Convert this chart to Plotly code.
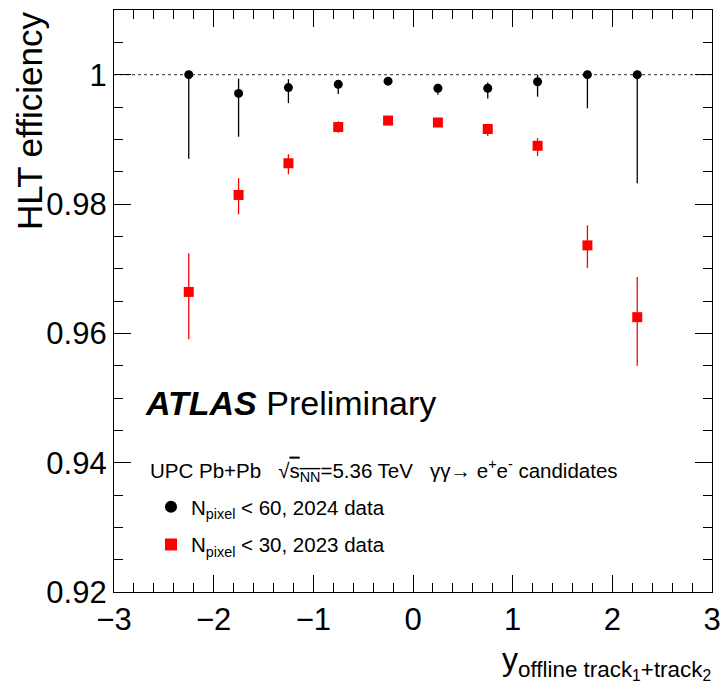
import plotly.graph_objects as go

# ---- data ----
y_bins = [-2.25, -1.75, -1.25, -0.75, -0.25, 0.25, 0.75, 1.25, 1.75, 2.25]

eff_2024 = [1.000, 0.9971, 0.9980, 0.9985, 0.9990, 0.9979, 0.9979, 0.9989, 1.000, 1.000]
err_up_2024 = [0.0, 0.0023, 0.0013, 0.0006, 0.0003, 0.0007, 0.0009, 0.0011, 0.0, 0.0]
err_dn_2024 = [0.0130, 0.0067, 0.0024, 0.0015, 0.0003, 0.0010, 0.0016, 0.0023, 0.0052, 0.0168]

eff_2023 = [0.9664, 0.9814, 0.9863, 0.9919, 0.9929, 0.9926, 0.9916, 0.9890, 0.9736, 0.9625]
err_up_2023 = [0.0060, 0.0026, 0.0014, 0.0009, 0.0004, 0.0005, 0.0007, 0.0012, 0.0031, 0.0062]
err_dn_2023 = [0.0073, 0.0030, 0.0017, 0.0009, 0.0004, 0.0006, 0.0011, 0.0016, 0.0035, 0.0075]

label_2024 = "N<sub>pixel</sub> &lt; 60, 2024 data"
label_2023 = "N<sub>pixel</sub> &lt; 30, 2023 data"

x_range = [-3, 3]
y_range = [0.92, 1.01]
ref_line = 1.0

FONT = "Liberation Sans, Arial, Helvetica, sans-serif"

fig = go.Figure()

fig.add_trace(go.Scatter(
    x=y_bins, y=eff_2024, mode="markers", name=label_2024, legendgroup="a",
    marker=dict(symbol="circle", size=9, color="black"),
    error_y=dict(type="data", symmetric=False, array=err_up_2024, arrayminus=err_dn_2024,
                 color="black", thickness=1.3, width=0),
))
fig.add_trace(go.Scatter(
    x=y_bins, y=eff_2023, mode="markers", name=label_2023, legendgroup="b",
    marker=dict(symbol="square", size=10, color="#ff0000"),
    error_y=dict(type="data", symmetric=False, array=err_up_2023, arrayminus=err_dn_2023,
                 color="#ff0000", thickness=1.3, width=0),
))

fig.add_shape(type="line", xref="x", yref="y", x0=x_range[0], x1=x_range[1],
              y0=ref_line, y1=ref_line, line=dict(color="#555555", width=1.3, dash="dot"),
              layer="below")

axis_common = dict(
    showline=True, linecolor="black", linewidth=1.2, mirror="ticks",
    ticks="inside", tickcolor="black", tickwidth=1.2, ticklen=17,
    showgrid=False, zeroline=False, automargin=False,
    tickfont=dict(family=FONT, size=31, color="black"),
)

fig.update_xaxes(range=x_range, dtick=1, tick0=0,
                 minor=dict(dtick=0.2, ticks="inside", ticklen=9, tickcolor="black", tickwidth=1.2),
                 **axis_common)
fig.update_yaxes(range=y_range, dtick=0.02, tick0=0.92,
                 minor=dict(dtick=0.005, ticks="inside", ticklen=9, tickcolor="black", tickwidth=1.2),
                 **axis_common)

W, H = 721, 695
L, R, T, B = 114, 9, 10, 103
pw, ph = W - L - R, H - T - B

def px(xp):
    return (xp - L) / pw

def py(yp):
    return (H - B - yp) / ph

annotations = [
    dict(text="HLT efficiency", x=px(29), y=py(121), xref="paper", yref="paper",
         textangle=-90, showarrow=False, xanchor="center", yanchor="middle",
         font=dict(family=FONT, size=35, color="black")),
    dict(text="y<sub>offline track<sub>1</sub>+track<sub>2</sub></sub>", x=px(713), y=py(662),
         xref="paper", yref="paper", showarrow=False, xanchor="right", yanchor="middle",
         font=dict(family=FONT, size=32, color="black")),
    dict(text="<b><i>ATLAS</i></b> Preliminary", x=px(143), y=py(403), xref="paper", yref="paper",
         showarrow=False, xanchor="left", yanchor="middle",
         font=dict(family=FONT, size=34, color="black")),
    dict(text="UPC Pb+Pb   √<span style='text-decoration:overline'>s<sub>NN</sub></span>=5.36 TeV   γγ→ e<sup>+</sup>e<sup>-</sup> candidates",
         x=px(148), y=py(470), xref="paper", yref="paper",
         showarrow=False, xanchor="left", yanchor="middle",
         font=dict(family=FONT, size=20.5, color="black")),
]

fig.update_layout(
    width=W, height=H,
    margin=dict(l=L, r=R, t=T, b=B),
    paper_bgcolor="white", plot_bgcolor="white",
    annotations=annotations,
    showlegend=True,
    legend=dict(x=px(151), y=py(487), xanchor="left", yanchor="top",
                bgcolor="rgba(0,0,0,0)", font=dict(family=FONT, size=20.5, color="black"),
                tracegroupgap=8, itemsizing="constant"),
)

fig.write_html(
    "out.html",
    config={"displayModeBar": False},
    post_script="document.body.style.margin='0';document.body.style.overflow='hidden';",
)
